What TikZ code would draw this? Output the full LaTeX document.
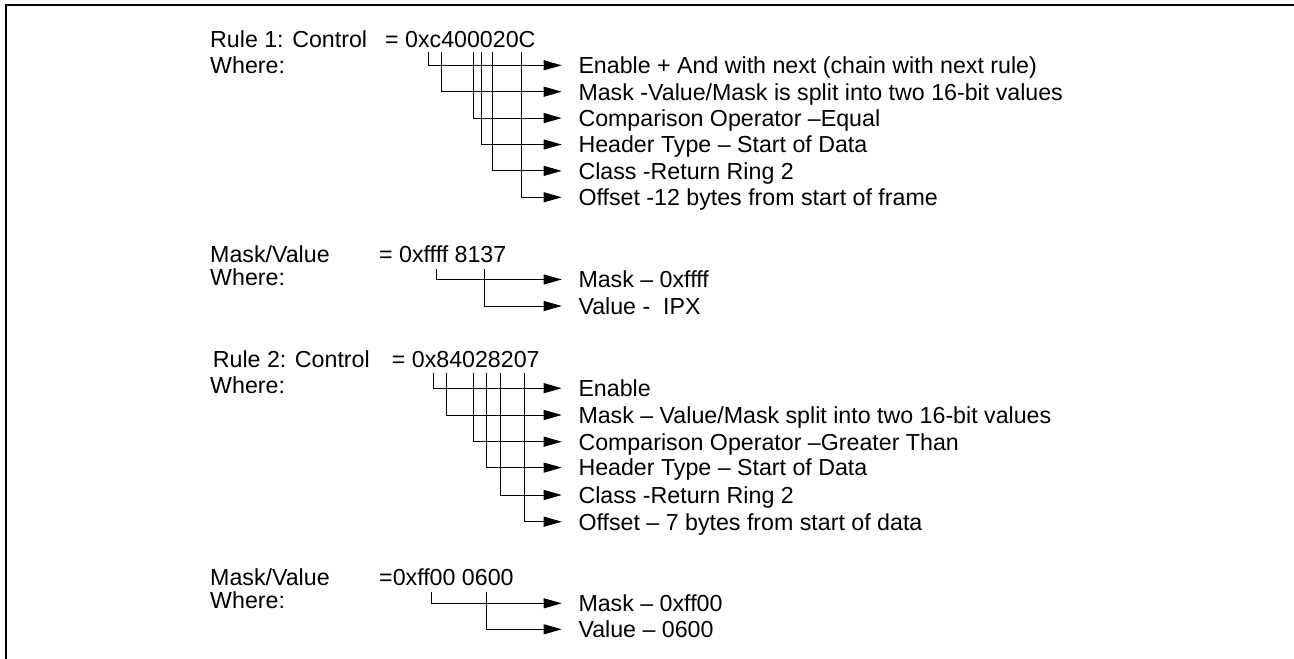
\documentclass[tikz,border=0pt]{standalone}
\usepackage{fontspec}
\setmainfont{Liberation Sans}
\usetikzlibrary{arrows.meta}
\begin{document}
\begin{tikzpicture}[x=1pt,y=-1pt,
  every node/.style={inner sep=0pt,font=\fontsize{23.2}{26}\selectfont},
  hdr/.style={anchor=base west},
  lbl/.style={anchor=west,text height=16.6pt,text depth=0pt},
  conn/.style={line width=1pt,-{Triangle[length=18pt,width=10pt]}},
  frameline/.style={line width=2pt}]
\useasboundingbox (0,0) rectangle (1294,659);
\draw[frameline] (6,659) -- (6,5) -- (1294,5);

% ---------- Block 1 ----------
\node[hdr] (r1) at (210,47) {Rule 1: Control};
\node[hdr] (r1v) at (385,47) {= 0xc400020C};
\node[hdr] (w1) at (210,73) {Where:};
\foreach \i/\x in {1/428.7,2/441,3/473.3,4/481.7,5/492.3,6/521}
  \coordinate (a\i) at (\x,52.3);
\node[lbl] (a1t) at (578.3,65.3) {Enable + And with next (chain with next rule)};
\node[lbl] (a2t) at (578.3,91.7) {Mask -Value/Mask is split into two 16-bit values};
\node[lbl] (a3t) at (578.3,118.1) {Comparison Operator –Equal};
\node[lbl] (a4t) at (578.3,144.5) {Header Type – Start of Data};
\node[lbl] (a5t) at (578.3,170.9) {Class -Return Ring 2};
\node[lbl] (a6t) at (578.3,197.3) {Offset -12 bytes from start of frame};
\foreach \i in {1,...,6}
  \draw[conn] (a\i) |- ([xshift=-16.6pt]a\i t.west);

% ---------- Block 2 ----------
\node[hdr] (m1) at (210,262) {Mask/Value};
\node[hdr] (m1v) at (379,262) {= 0xffff 8137};
\node[hdr] (w2) at (210,285) {Where:};
\coordinate (b1) at (436,269.3);
\coordinate (b2) at (484,269.3);
\node[lbl] (b1t) at (578.3,279.5) {Mask – 0xffff};
\node[lbl] (b2t) at (578.3,306) {Value -\ \ IPX};
\foreach \i in {1,2}
  \draw[conn] (b\i) |- ([xshift=-16.6pt]b\i t.west);

% ---------- Block 3 ----------
\node[hdr] (r2) at (212.7,367) {Rule 2: Control};
\node[hdr] (r2v) at (391.7,367) {= 0x84028207};
\node[hdr] (w3) at (210,393) {Where:};
\foreach \i/\x in {1/433.3,2/446.7,3/473.3,4/486.7,5/500.7,6/524}
  \coordinate (c\i) at (\x,373.3);
\node[lbl] (c1t) at (578.3,388.2) {Enable};
\node[lbl] (c2t) at (578.3,415) {Mask – Value/Mask split into two 16-bit values};
\node[lbl] (c3t) at (578.3,441.7) {Comparison Operator –Greater Than};
\node[lbl] (c4t) at (578.3,467.6) {Header Type – Start of Data};
\node[lbl] (c5t) at (578.3,495) {Class -Return Ring 2};
\node[lbl] (c6t) at (578.3,521.7) {Offset – 7 bytes from start of data};
\foreach \i in {1,...,6}
  \draw[conn] (c\i) |- ([xshift=-16.6pt]c\i t.west);

% ---------- Block 4 ----------
\node[hdr] (m2) at (210,585) {Mask/Value};
\node[hdr] (m2v) at (379,585) {=0xff00 0600};
\node[hdr] (w4) at (210,608) {Where:};
\coordinate (d1) at (431,591.7);
\coordinate (d2) at (486.7,591.7);
\node[lbl] (d1t) at (578.3,603.3) {Mask – 0xff00};
\node[lbl] (d2t) at (578.3,629.3) {Value – 0600};
\foreach \i in {1,2}
  \draw[conn] (d\i) |- ([xshift=-16.6pt]d\i t.west);
\end{tikzpicture}
\end{document}
